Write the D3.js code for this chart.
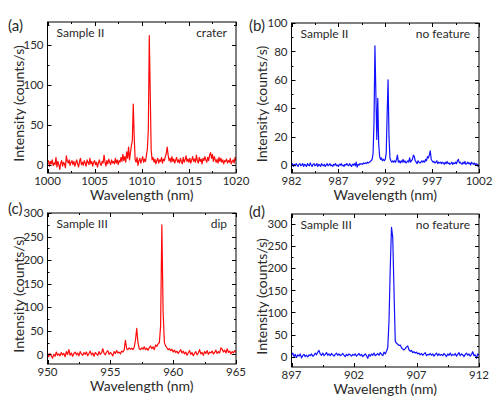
<!DOCTYPE html>
<html><head><meta charset="utf-8">
<script src="https://cdn.jsdelivr.net/npm/d3@7"></script>
<style>body{margin:0;background:#fff}svg{display:block}text{font-family:Lato,"Open Sans",sans-serif;fill:#2a2a2a}</style>
</head><body><svg id="c" width="499" height="399"></svg>
<script>
// ---- data ----
const aStart = 1000, aStep = 0.1;
const aValues = [3,5,-2,4,1,6,-1,2,0,9,
 -3,4,0,-6,2,5,-2,3,1,-4,
 11,4,2,6,-1,3,5,0,4,-2,
 2,6,1,-3,4,8,0,3,-1,5,
 2,-2,6,3,0,8,1,4,-2,3,
 5,0,3,-3,2,6,1,-1,4,2,
 12,3,-2,5,1,7,3,0,6,2,
 4,1,8,2,6,0,5,3,9,4,
 13,5,10,3,16,8,22,6,15,24,
 30,76,35,6,3,9,-1,5,8,2,
 6,10,3,7,4,12,20,45,162,90,
 18,6,9,3,7,1,5,8,2,6,
 4,9,2,7,5,10,14,22,12,5,
 8,3,10,4,7,2,6,9,3,6,
 2,8,4,1,9,3,6,11,4,7,
 3,8,2,6,10,4,7,3,12,5,
 2,9,4,7,1,8,5,10,6,3,
 9,5,12,15,8,13,4,10,6,3,
 7,2,9,4,8,3,6,1,5,4,
 7,2,5,3,8,1,4,6,2,9,
 5];
const bStart = 982, bStep = 0.1;
const bValues = [0,1,-1,0.5,-0.5,1,0,-1,0.5,1,
 -0.5,0,1,-1,0.5,0,-1,1,0,-0.5,
 1.5,0,-1,0.5,1,-0.5,0,1,-1,0.5,
 0,-1,1,0,-0.5,0.5,-1,0,1,-0.5,
 0,1,-0.5,0,-1,0.5,0,1,-0.5,0,
 -1,0.5,0,1,-0.5,0,-1,0.5,0,1,
 0,-0.5,1,0,-1,0.5,0,1,-0.5,2,
 -1.5,0.5,0,1,0.5,1,0.5,1.5,1,1.5,
 1,2,1.5,2,2.5,3,4,8,30,84,
 50,18,47,15,6,4,5,3,4,3,
 4,8,35,60,20,5,3,2,3,2,
 3,2,4,7,2,3,1.5,3,2,4,
 2,3,1.5,2,3,2,5,2,3,4,
 7,6,3,2,1,3,2,1.5,2,3,
 2,3,2,4,3,6,5,7,10,4,
 3,2,2.5,1.5,2,3,1,2,1.5,2,
 1,2,1.5,0.5,2,1,2.5,1,1.5,0.5,
 1,2,0.5,1.5,1,2,1,3,4,1.5,
 2,1,0.5,2,1,2.5,0.5,1,2,1,
 1.5,0,2,1,0.5,1.5,0,1,0.5,-1,
 0.5];
const cStart = 950, cStep = 0.1;
const cValues = [3,-5,2,-3,-8,0,-4,5,-2,1,
 -3,4,-1,2,-5,6,0,10,-2,3,
 -4,2,5,-1,3,-3,6,1,-2,4,
 0,5,-3,2,7,-1,3,-4,4,1,
 -2,6,0,3,12,2,-1,5,8,0,
 4,1,-3,6,2,8,3,5,1,7,
 5,9,30,12,10,14,11,13,10,15,
 30,55,25,12,10,14,11,16,10,13,
 9,14,18,12,16,10,20,17,22,25,
 60,275,90,25,18,14,10,12,8,11,
 5,9,4,7,2,6,10,3,7,1,
 5,-2,3,8,0,4,-3,2,6,-1,
 3,10,1,4,-2,6,2,8,0,5,
 3,7,1,4,9,2,6,3,14,11,
 5,9,3,12,4,7,1,6,3,8,
 4];
const dStart = 897, dStep = 0.1;
const dValues = [3,8,0,5,-2,4,1,6,-3,2,
 5,0,3,-1,4,2,6,1,3,8,
 4,10,14,6,3,8,2,5,9,3,
 6,2,7,4,1,5,8,3,6,2,
 4,7,3,0,5,2,6,4,1,5,
 3,6,1,4,7,2,5,0,3,6,
 2,-4,5,1,6,3,8,2,4,7,
 3,9,5,2,10,6,12,20,80,200,
 293,270,150,35,30,28,25,26,20,17,
 15,18,22,24,15,12,14,9,11,8,
 10,6,8,4,7,3,6,9,2,5,
 4,7,3,6,1,5,8,2,6,3,
 5,2,7,4,0,6,3,8,2,5,
 3,7,1,5,9,2,6,4,0,5,
 8,3,6,1,5,11,2,4,-4,6,
 3];
const aXTicks = [1000,1005,1010,1015,1020], aYTicks = [0,50,100,150];
const bXTicks = [982,987,992,997,1002], bYTicks = [0,20,40,60,80,100];
const cXTicks = [950,955,960,965], cYTicks = [0,50,100,150,200,250,300];
const dXTicks = [897,902,907,912], dYTicks = [0,50,100,150,200,250,300];
const panelLetters = ["(a)","(b)","(c)","(d)"];
const sampleLabels = ["Sample II","Sample II","Sample III","Sample III"];
const featureLabels = ["crater","no feature","dip","no feature"];

// ---- drawing ----
const svg = d3.select("#c");
const RED = "#ff0a0a", BLUE = "#1212ff";
const panels = [
 {start:aStart,step:aStep,vals:aValues,xt:aXTicks,yt:aYTicks,xd:[1000,1020],yd:[-10.5,179],box:[47.5,22,236,173],col:RED,lab:[8,31],ylx:24},
 {start:bStart,step:bStep,vals:bValues,xt:bXTicks,yt:bYTicks,xd:[982,1002],yd:[-5.6,100],box:[291.5,23,479,173],col:BLUE,lab:[249,31],ylx:267},
 {start:cStart,step:cStep,vals:cValues,xt:cXTicks,yt:cYTicks,xd:[950,965],yd:[-20.4,300],box:[47.5,213,236,364],col:RED,lab:[8,214],ylx:24},
 {start:dStart,step:dStep,vals:dValues,xt:dXTicks,yt:dYTicks,xd:[897,912],yd:[-23.6,323],box:[291.5,214,479,367],col:BLUE,lab:[249,217],ylx:267}
];
panels.forEach((p,i)=>{
  const [L,T,R,B] = p.box;
  const x = d3.scaleLinear().domain(p.xd).range([L,R]);
  const y = d3.scaleLinear().domain(p.yd).range([B,T]);
  const g = svg.append("g");
  const clipId = "clip"+i;
  svg.append("clipPath").attr("id",clipId).append("rect").attr("x",L).attr("y",T).attr("width",R-L).attr("height",B-T);
  const pts = p.vals.map((v,k)=>[p.start+k*p.step, v]);
  g.append("path").datum(pts).attr("clip-path",`url(#${clipId})`)
    .attr("fill","none").attr("stroke",p.col).attr("stroke-width",1.2).attr("stroke-linejoin","round")
    .attr("d", d3.line().x(d=>x(d[0])).y(d=>y(d[1])));
  const xStep = p.xt[1]-p.xt[0], yStep = p.yt[1]-p.yt[0];
  const xMinor = p.xt.slice(0,-1).map(t=>t+xStep/2);
  const yMinor = [];
  for (let t = p.yt[0]-yStep/2; t <= p.yd[1]; t += yStep) if (t>=p.yd[0]) yMinor.push(t);
  const yMajor = p.yt.filter(t=>t<=p.yd[1]);
  const tickG = g.append("g").attr("stroke","#000").attr("stroke-width",1);
  const drawX = (vals,len)=>vals.forEach(t=>{const xx=Math.round(x(t))+0.5;
     tickG.append("line").attr("x1",xx).attr("x2",xx).attr("y1",B).attr("y2",B-len);
     tickG.append("line").attr("x1",xx).attr("x2",xx).attr("y1",T).attr("y2",T+len);});
  const drawY = (vals,len)=>vals.forEach(t=>{const yy=Math.round(y(t))+0.5;
     tickG.append("line").attr("y1",yy).attr("y2",yy).attr("x1",L).attr("x2",L+len);
     tickG.append("line").attr("y1",yy).attr("y2",yy).attr("x1",R).attr("x2",R-len);});
  drawX(p.xt,4); drawX(xMinor,2); drawY(yMajor,4); drawY(yMinor,2);
  g.append("rect").attr("x",L).attr("y",T).attr("width",R-L).attr("height",B-T)
    .attr("fill","none").attr("stroke","#000").attr("stroke-width",1);
  p.xt.forEach(t=>g.append("text").attr("x",x(t)).attr("y",B+12).attr("text-anchor","middle").attr("font-size",11.5).text(t));
  yMajor.forEach(t=>g.append("text").attr("x",L-4).attr("y",y(t)+4.2).attr("text-anchor","end").attr("font-size",11.5).text(t));
  g.append("text").attr("x",(L+R)/2).attr("y",B+26.5).attr("text-anchor","middle").attr("font-size",14).text("Wavelength (nm)");
  g.append("text").attr("transform",`translate(${p.ylx},${(T+B)/2+6}) rotate(-90)`).attr("text-anchor","middle").attr("font-size",14).text("Intensity (counts/s)");
  g.append("text").attr("x",p.lab[0]).attr("y",p.lab[1]).attr("font-size",15).text(panelLetters[i]);
  g.append("text").attr("x",L+9).attr("y",T+15).attr("font-size",12).text(sampleLabels[i]);
  g.append("text").attr("x",R-9).attr("y",T+15).attr("text-anchor","end").attr("font-size",12).text(featureLabels[i]);
});
</script></body></html>
